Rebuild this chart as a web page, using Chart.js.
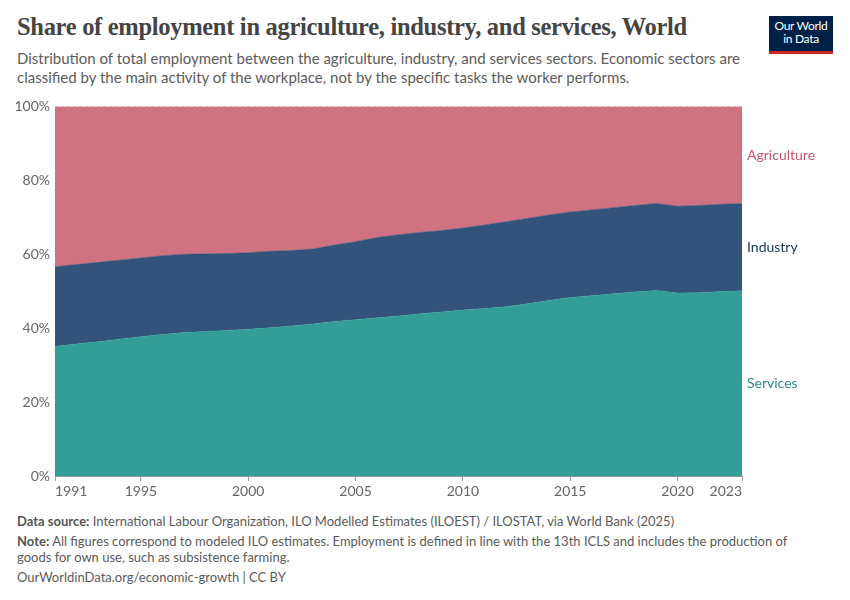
<!DOCTYPE html>
<html>
<head>
<meta charset="utf-8">
<script src="https://cdn.jsdelivr.net/npm/chart.js@4"></script>
<style>
  body { margin: 0; width: 850px; height: 600px; background: #fff; font-family: Lato, "Open Sans", sans-serif; position: relative; overflow: hidden; }
  #title { position: absolute; left: 17px; top: 13px; font-family: "Liberation Serif", "DejaVu Serif", serif; font-weight: bold; font-size: 24.5px; color: #444; letter-spacing: -0.3px; }
  #sub { position: absolute; left: 17px; top: 49px; width: 750px; font-size: 15px; line-height: 19px; color: #5b5b5b; }
  #logo { position: absolute; left: 769px; top: 16px; width: 64px; height: 32px; background: #002147; color: #fff; font-size: 12px; line-height: 13px; text-align: center; padding-top: 3px; border-bottom: 3px solid #ce261e; box-sizing: content-box; letter-spacing: -0.3px; }
  #wrap { position: absolute; left: 0; top: 93px; width: 850px; height: 413px; }
  .foot { position: absolute; left: 17px; font-size: 13px; color: #5b5b5b; line-height: 16px; }
  .foot b { font-weight: bold; color: #555; }
</style>
</head>
<body>
<div id="title">Share of employment in agriculture, industry, and services, World</div>
<div id="sub">Distribution of total employment between the agriculture, industry, and services sectors. Economic sectors are classified by the main activity of the workplace, not by the specific tasks the worker performs.</div>
<div id="logo">Our World<br>in Data</div>
<div id="wrap"><canvas id="myChart"></canvas></div>
<div class="foot" style="top:513px"><b>Data source:</b> International Labour Organization, ILO Modelled Estimates (ILOEST) / ILOSTAT, via World Bank (2025)</div>
<div class="foot" style="top:533px; width:790px"><b>Note:</b> All figures correspond to modeled ILO estimates. Employment is defined in line with the 13th ICLS and includes the production of goods for own use, such as subsistence farming.</div>
<div class="foot" style="top:569px">OurWorldinData.org/economic-growth | CC BY</div>
<script>
// years 1991-2023
var years = [1991,1992,1993,1994,1995,1996,1997,1998,1999,2000,2001,2002,2003,2004,2005,2006,2007,2008,2009,2010,2011,2012,2013,2014,2015,2016,2017,2018,2019,2020,2021,2022,2023];

// % of total employment
var services = [35.1,35.7,36.3,37.0,37.7,38.3,38.8,39.1,39.4,39.7,40.1,40.6,41.1,41.8,42.3,42.8,43.3,43.9,44.4,44.9,45.3,45.8,46.6,47.5,48.3,48.8,49.3,49.8,50.2,49.5,49.6,49.9,50.1];
var industry = [21.5,21.5,21.5,21.4,21.3,21.3,21.2,21.0,20.8,20.7,20.7,20.4,20.3,20.7,21.1,21.7,22.0,22.0,22.0,22.2,22.6,23.0,23.1,23.1,23.1,23.2,23.3,23.4,23.5,23.5,23.6,23.6,23.6];
var agriculture = [43.4,42.8,42.2,41.6,41.0,40.4,40.0,39.9,39.8,39.6,39.2,39.0,38.6,37.5,36.6,35.5,34.7,34.1,33.6,32.9,32.1,31.2,30.3,29.4,28.6,28.0,27.4,26.8,26.3,27.0,26.8,26.5,26.3];

var xTicks = [1991, 1995, 2000, 2005, 2010, 2015, 2020, 2023];
var yTicks = [0, 20, 40, 60, 80, 100];

var sectorNames = ["Services", "Industry", "Agriculture"];
var fillColors = ["#339e97", "#33537a", "#cf7282"];
var textColors = ["#2a8c85", "#173a66", "#c9546a"];

function pts(vals) {
  return vals.map(function (v, i) { return { x: years[i], y: v }; });
}

var endLabels = {
  id: "endLabels",
  afterDraw: function (chart) {
    var c = chart.ctx;
    var ys = chart.scales.y;
    var right = chart.chartArea.right;
    var last = years.length - 1;
    var base = 0;
    c.save();
    c.font = "14px Lato, sans-serif";
    c.textBaseline = "middle";
    [services, industry, agriculture].forEach(function (vals, k) {
      var top = base + vals[last];
      var mid = (ys.getPixelForValue(base) + ys.getPixelForValue(top)) / 2;
      c.fillStyle = textColors[k];
      c.fillText(sectorNames[k], right + 5, mid);
      base = top;
    });
    c.restore();
  }
};

var ctx = document.getElementById("myChart");
var myChart = new Chart(ctx, {
  type: "line",
  data: {
    datasets: [services, industry, agriculture].map(function (vals, k) {
      return {
        label: sectorNames[k],
        data: pts(vals),
        backgroundColor: fillColors[k],
        borderColor: fillColors[k],
        borderWidth: 0.5,
        pointRadius: 0,
        fill: k === 0 ? "origin" : "-1",
        tension: 0,
      };
    }),
  },
  options: {
    responsive: true,
    maintainAspectRatio: false,
    animation: false,
    layout: { padding: { top: 7, right: 108, left: 0, bottom: 0 } },
    plugins: { legend: { display: false }, tooltip: { enabled: false } },
    scales: {
      x: {
        type: "linear",
        min: 1991,
        max: 2023,
        afterBuildTicks: function (s) { s.ticks = xTicks.map(function (v) { return { value: v }; }); },
        afterFit: function (s) { s.height = 30; },
        grid: { drawOnChartArea: false, drawTicks: true, tickLength: 5, color: "#999" },
        border: { color: "#999" },
        ticks: { color: "#666", font: { family: "Lato", size: 14 }, padding: 2, maxRotation: 0, align: "inner", callback: function (v) { return String(v); } },
      },
      y: {
        stacked: true,
        min: 0,
        max: 100,
        afterBuildTicks: function (s) { s.ticks = yTicks.map(function (v) { return { value: v }; }); },
        afterFit: function (s) { s.width = 55; },
        grid: { color: "#ddd", drawTicks: false },
        border: { display: false, dash: [3, 3] },
        ticks: { color: "#666", font: { family: "Lato", size: 14 }, padding: 5, callback: function (v) { return v + "%"; } },
      },
    },
  },
  plugins: [endLabels],
});
</script>
</body>
</html>
